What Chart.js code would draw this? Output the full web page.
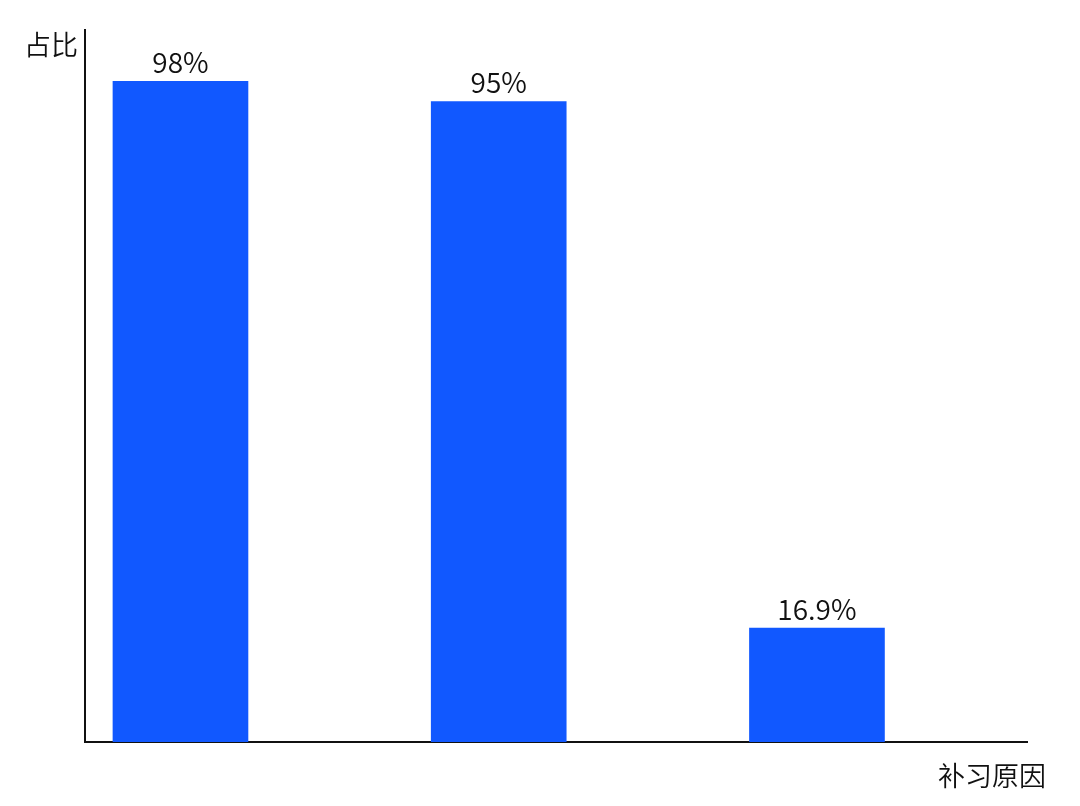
<!DOCTYPE html>
<html>
<head>
<meta charset="utf-8">
<script src="https://cdn.jsdelivr.net/npm/chart.js@4"></script>
<style>
html,body{margin:0;padding:0;background:#fff;}
#wrap{width:1080px;height:806px;position:relative;}
</style>
</head>
<body>
<div id="wrap"><canvas id="c" width="1080" height="806"></canvas></div>
<script>
const categories = ["原因一", "原因二", "原因三"];
const values = [98, 95, 16.9];
const valueLabels = ["98%", "95%", "16.9%"];
const yTitle = "占比";
const xTitle = "补习原因";

const FONT = '"Noto Sans CJK SC", "Noto Sans", sans-serif';

const labelPlugin = {
  id: 'labels',
  afterDatasetsDraw(chart) {
    const ctx = chart.ctx;
    const meta = chart.getDatasetMeta(0);
    ctx.save();
    ctx.fillStyle = '#111';
    ctx.font = '350 28px ' + FONT;
    ctx.textAlign = 'center';
    ctx.textBaseline = 'alphabetic';
    meta.data.forEach((bar, i) => {
      ctx.fillText(valueLabels[i], bar.x, bar.y - 8);
    });
    const a = chart.chartArea;
    ctx.font = '350 27px ' + FONT;
    ctx.textBaseline = 'middle';
    ctx.textAlign = 'right';
    ctx.fillText(yTitle, a.left - 7, a.top + 15);
    ctx.fillText(xTitle, a.right + 19, a.bottom + 34);
    ctx.restore();
  }
};

new Chart(document.getElementById('c'), {
  type: 'bar',
  data: {
    labels: categories,
    datasets: [{
      data: values.map((v, i) => ({x: i, y: v})),
      backgroundColor: '#1158FF',
      barThickness: 135,
      borderWidth: 0
    }]
  },
  options: {
    responsive: false,
    animation: false,
    devicePixelRatio: 1,
    layout: {padding: {left: 85, right: 53, top: 30, bottom: 64}},
    plugins: {legend: {display: false}, tooltip: {enabled: false}},
    scales: {
      x: {
        type: 'linear',
        offset: false,
        min: -0.3,
        max: 2.66,
        grid: {display: false, drawTicks: false},
        border: {display: true, color: '#111', width: 2},
        ticks: {display: false}
      },
      y: {
        type: 'linear',
        min: 0,
        max: 105.6,
        grid: {display: false, drawTicks: false},
        border: {display: true, color: '#111', width: 2},
        ticks: {display: false}
      }
    }
  },
  plugins: [labelPlugin]
});
</script>
</body>
</html>
